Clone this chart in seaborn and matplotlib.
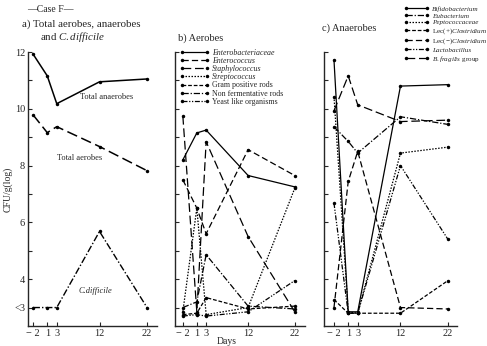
import matplotlib
matplotlib.use("Agg")
import matplotlib.pyplot as plt
import seaborn as sns

# ---------------- data ----------------
days = [-2, 1, 3, 12, 22]
day_labels = ["\u2212 2", "1", "3", "12", "22"]

# panel a
total_anaerobes = [11.93, 11.16, 10.18, 10.95, 11.05]
total_aerobes = [9.79, 9.16, 9.37, 8.67, 7.82]
c_difficile = [3.0, 3.0, 3.0, 5.68, 3.0]

# panel b (aerobes)
b_names = ["Enterobacteriaceae", "Enterococcus", "Staphylococcus", "Streptococcus",
           "Gram positive rods", "Non fermentative rods", "Yeast like organisms"]
enterobacteriaceae = [8.2, 9.15, 9.25, 7.65, 7.25]
enterococcus = [7.5, 6.5, 5.6, 8.56, 7.65]
staphylococcus = [9.75, 2.85, 8.84, 5.5, 2.85]
streptococcus = [2.85, 6.5, 2.75, 3.0, 7.2]
gram_pos_rods = [2.75, 2.8, 3.35, 2.95, 3.05]
non_ferm_rods = [3.0, 3.2, 4.86, 3.05, 2.95]
yeast = [2.7, 2.75, 2.7, 2.85, 3.95]

# panel c (anaerobes)
c_names = ["Bifidobacterium", "Eubacterium", "Peptococcaceae", "Lec(+)Clostridium",
           "Lec(\u2212)Clostridium", "Lactobacillus", "B.fragilis group"]
bifidobacterium = [11.72, 2.85, 2.85, 10.8, 10.85]
eubacterium = [9.37, 8.85, 8.44, 9.72, 9.45]
peptococcaceae = [10.43, 2.85, 2.8, 8.44, 8.65]
lec_pos = [3.28, 2.8, 2.8, 2.8, 3.95]
lec_neg = [3.0, 7.44, 8.5, 3.0, 2.95]
lactobacillus = [6.68, 2.8, 2.8, 8.0, 5.4]
b_fragilis = [9.93, 11.16, 10.14, 9.55, 9.6]

ytick_vals = [3, 4, 5, 6, 7, 8, 9, 10, 11, 12]
ytick_labels = ["<3", "4", "", "6", "", "8", "", "10", "", "12"]

# ---------------- style ----------------
sns.set_style("ticks")
plt.rcParams["font.family"] = ["Liberation Serif", "DejaVu Serif"]
plt.rcParams["mathtext.fontset"] = "custom"
plt.rcParams["mathtext.rm"] = "Liberation Serif"
plt.rcParams["mathtext.it"] = "Liberation Serif:italic"
plt.rcParams["mathtext.bf"] = "Liberation Serif:bold"

fig = plt.figure(figsize=(4.87, 3.46), dpi=100)

bottom = 1 - 326 / 346
top = 1 - 52 / 346
h = top - bottom
ax_a = fig.add_axes([28 / 487, bottom, 129 / 487, h])
ax_b = fig.add_axes([175 / 487, bottom, 130 / 487, h])
ax_c = fig.add_axes([324 / 487, bottom, 133 / 487, h])

xlims = {ax_a: (-3.05, 24.1), ax_b: (-3.68, 24.2), ax_c: (-4.1, 23.9)}

SOLID = "-"
DASH = (0, (5, 2.5))
LONGDASH = (0, (7, 3))
DOT = (0, (1.2, 1.2))
DASHDOT = (0, (5, 1.5, 1, 1.5))
DASHDOTDOT = (0, (4, 1.3, 1, 1.3, 1, 1.3))
HEAVYDASH = (0, (3, 1.5))


def draw(ax, vals, ls, lw=0.9, label=None):
    sns.lineplot(x=days, y=vals, ax=ax, color="black", linestyle=ls, linewidth=lw,
                 marker="o", markersize=2.5, markeredgewidth=0, label=label,
                 legend=False)


# panel a
draw(ax_a, total_anaerobes, SOLID, 1.1)
draw(ax_a, total_aerobes, LONGDASH, 1.1)
draw(ax_a, c_difficile, DASHDOT, 1.0)

# panel b
b_series = [enterobacteriaceae, enterococcus, staphylococcus, streptococcus,
            gram_pos_rods, non_ferm_rods, yeast]
b_styles = [SOLID, DASH, LONGDASH, DOT, HEAVYDASH, DASHDOT, DASHDOTDOT]
for vals, ls, nm in zip(b_series, b_styles, b_names):
    draw(ax_b, vals, ls, 0.9, nm)

# panel c
c_series = [bifidobacterium, eubacterium, peptococcaceae, lec_pos, lec_neg,
            lactobacillus, b_fragilis]
c_styles = [SOLID, DASHDOT, DOT, HEAVYDASH, DASH, DASHDOTDOT, LONGDASH]
for vals, ls, nm in zip(c_series, c_styles, c_names):
    draw(ax_c, vals, ls, 0.9, nm)

for ax in (ax_a, ax_b, ax_c):
    ax.set_xlim(*xlims[ax])
    ax.set_ylim(2.35, 12)
    ax.set_xticks(days)
    ax.set_xticklabels(day_labels)
    ax.set_yticks(ytick_vals)
    ax.tick_params(direction="in", length=3, width=0.8, labelsize=7.5, pad=2)
    for s in ("top", "right"):
        ax.spines[s].set_visible(False)
    for s in ("left", "bottom"):
        ax.spines[s].set_linewidth(1.0)
    ax.set_xlabel("")
    ax.set_ylabel("")

ax_a.set_yticklabels(ytick_labels)
ax_b.set_yticklabels([])
ax_c.set_yticklabels([])
ax_a.set_ylabel("CFU/g(log)", fontsize=7, labelpad=1)
fig.text(227 / 487, 1 - 341 / 346, "Days", fontsize=7, ha="center", va="center")

# annotations in panel a
ax_a.text(7.8, 10.35, "Total anaerobes", fontsize=6)
ax_a.text(3.0, 8.2, "Total aerobes", fontsize=6)
ax_a.text(7.6, 3.5, "C.difficile", fontsize=6, style="italic")

# headings
fig.text(27 / 487, 1 - 9 / 346, "\u2014Case F\u2014", fontsize=7, va="center")
fig.text(22 / 487, 1 - 24 / 346, "a) Total aerobes, anaerobes", fontsize=7.8, va="center")
fig.text(40 / 487, 1 - 37 / 346, r"and $\it{C.difficile}$", fontsize=7.8, va="center")
fig.text(178 / 487, 1 - 38 / 346, "b) Aerobes", fontsize=7.5, va="center")
fig.text(322 / 487, 1 - 28 / 346, "c) Anaerobes", fontsize=7.5, va="center")

# legends
b_italic = [True, True, True, True, False, False, False]
hb = ax_b.get_lines()[:7]
leg_b = ax_b.legend(hb, b_names, loc="upper left", bbox_to_anchor=(0.035, 1.012),
                    frameon=False, fontsize=5.7, handlelength=3.8, handletextpad=0.3,
                    labelspacing=0.02, borderaxespad=0, borderpad=0, numpoints=2)
for t, it in zip(leg_b.get_texts(), b_italic):
    if it:
        t.set_fontstyle("italic")

c_labels = ["Bifidobacterium", "Eubacterium", "Peptococcaceae",
            r"Lec(+)$\it{Clostridium}$", r"Lec($-$)$\it{Clostridium}$",
            "Lactobacillus", r"$\it{B.fragilis}$ group"]
c_italic = [True, True, True, False, False, True, False]
hc = ax_c.get_lines()[:7]
leg_c = fig.legend(hc, c_labels, loc="upper left", bbox_to_anchor=(404 / 487, 1 - 6 / 346),
                   frameon=False, fontsize=5.1, handlelength=3.6, handletextpad=0.3,
                   labelspacing=0.1, borderaxespad=0, borderpad=0, numpoints=2)
for t, it in zip(leg_c.get_texts(), c_italic):
    if it:
        t.set_fontstyle("italic")

fig.savefig("out.png", dpi=100)
